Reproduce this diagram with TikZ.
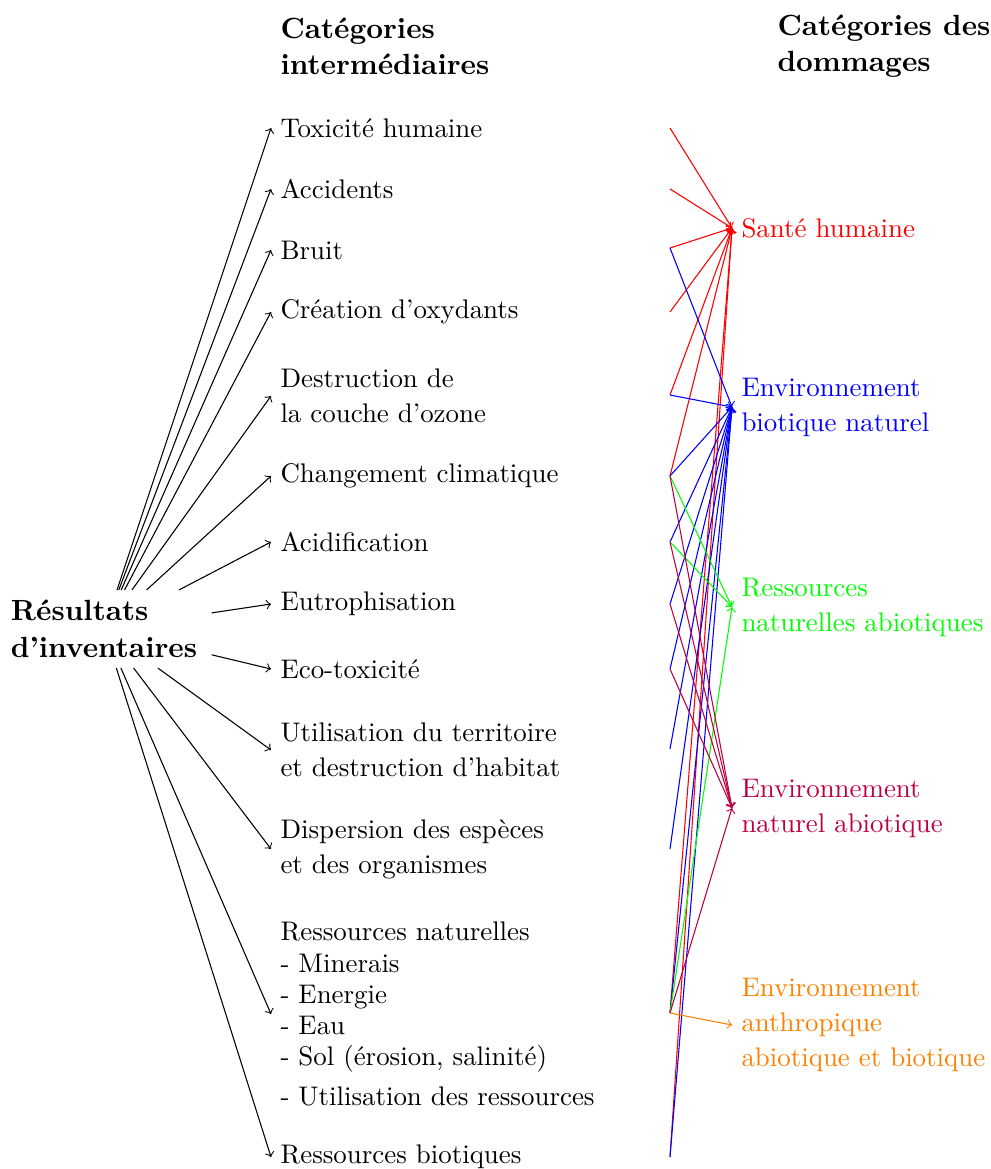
\documentclass[tikz,border=0pt]{standalone}
\begin{document}
\begin{tikzpicture}[x=0.3716pt,y=-0.3716pt,
  cat/.style={anchor=west, align=left, font=\fontsize{10}{13}\selectfont},
  dmg/.style={anchor=west, align=left, font=\fontsize{10}{13}\selectfont},
  head/.style={anchor=west, align=left, font=\fontsize{10.85}{13.4}\selectfont\bfseries},
  arr/.style={->}]
\useasboundingbox (0,0) rectangle (990,1169);
% headers
\node[head] (h1) at (271,46) {Catégories\\intermédiaires};
\node[head] (h2) at (768,46) {Catégories des\\dommages};
% source
\node[font=\fontsize{10.85}{13.75}\selectfont\bfseries, align=left, minimum width=79.6pt, minimum height=28.6pt] (res) at (104,629) {Résultats\\d'inventaires};
% intermediate categories
\node[cat] (c1) at (271,128) {Toxicité humaine};
\node[cat] (c2) at (271,189) {Accidents};
\node[cat] (c3) at (271,250) {Bruit};
\node[cat] (c4) at (271,312) {Création d'oxydants};
\node[cat] (c5) at (271,396) {Destruction de\\la couche d'ozone};
\node[cat] (c6) at (271,476) {Changement climatique};
\node[cat] (c7) at (271,542) {Acidification};
\node[cat] (c8) at (271,604) {Eutrophisation};
\node[cat] (c9) at (271,669) {Eco-toxicité};
\node[cat] (c10) at (271,750) {Utilisation du territoire\\et destruction d'habitat};
\node[cat] (c11) at (271,849) {Dispersion des espèces\\et des organismes};
\node[cat, font=\fontsize{10}{11.6}\selectfont] (c12) at (271,1014) {Ressources naturelles\\- Minerais\\- Energie\\- Eau\\- Sol (érosion, salinité)\\[3pt]- Utilisation des ressources};
\node[cat] (c13) at (271,1157) {Ressources biotiques};
% start points on the right
\coordinate (s1) at (670,128);
\coordinate (s2) at (670,189);
\coordinate (s3) at (670,248);
\coordinate (s4) at (670,312);
\coordinate (s5) at (670,395);
\coordinate (s6) at (670,476);
\coordinate (s7) at (670,542);
\coordinate (s8) at (670,604);
\coordinate (s9) at (670,669);
\coordinate (s10) at (670,749);
\coordinate (s11) at (670,849);
\coordinate (s12) at (670,1013);
\coordinate (s13) at (670,1157);
% damage categories
\node[dmg, text=red] (d1) at (732,228) {Santé humaine};
\node[dmg, text=blue] (d2) at (732,407) {Environnement\\biotique naturel};
\node[dmg, text=green] (d3) at (732,607) {Ressources\\naturelles abiotiques};
\node[dmg, text=purple] (d4) at (732,808) {Environnement\\naturel abiotique};
\node[dmg, text=orange] (d5) at (732,1025) {Environnement\\anthropique\\abiotique et biotique};
% left arrows
\foreach \i in {1,...,13} \draw[arr] (res) -- (c\i.west);
% right arrows
\foreach \i in {1,2,3,4,5,6,12,13} \draw[arr, red] (s\i) -- (d1.west);
\foreach \i in {3,5,6,7,8,9,10,11,12,13} \draw[arr, blue] (s\i) -- (d2.west);
\foreach \i in {6,7,12} \draw[arr, green] (s\i) -- (d3.west);
\foreach \i in {6,7,8,9,12} \draw[arr, purple] (s\i) -- (d4.west);
\draw[arr, orange] (s12) -- (d5.west);
\end{tikzpicture}
\end{document}
